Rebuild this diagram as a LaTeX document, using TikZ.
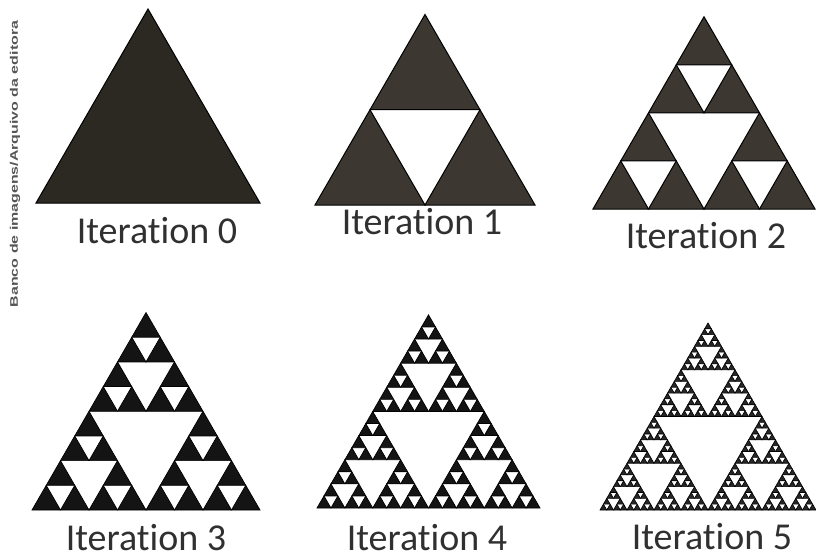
\documentclass[tikz,border=0pt]{standalone}
\usepackage{fontspec}
\setmainfont{Carlito}[RawFeature={-liga}]
\newfontfamily\markfont{Liberation Sans}

\definecolor{greyfill}{RGB}{60,56,49}
\definecolor{darkfill}{RGB}{44,41,35}
\definecolor{labelgrey}{RGB}{48,48,48}
\definecolor{markgrey}{RGB}{85,85,85}

\tikzset{
  tri/.style={fill=greyfill, draw=black, line width=1pt},
  itlabel/.style={anchor=base, inner sep=0pt, text=labelgrey,
    font=\fontsize{38}{40}\selectfont}
}

% level, x of base left, y of base, side
\newcommand\sierp[4]{%
  \ifnum#1=0
    \path[tri] (#2,#3) -- ++(#4,0) -- ++(-0.5*#4,-0.8660254*#4) -- cycle;
  \else
    \begingroup
      \pgfmathtruncatemacro\lvl{#1-1}%
      \pgfmathsetmacro\hs{#4/2}%
      \pgfmathsetmacro\xr{#2+#4/2}%
      \pgfmathsetmacro\xt{#2+#4/4}%
      \pgfmathsetmacro\yt{#3-#4*0.4330127}%
      \edef\next{%
        \noexpand\sierp{\lvl}{#2}{#3}{\hs}%
        \noexpand\sierp{\lvl}{\xr}{#3}{\hs}%
        \noexpand\sierp{\lvl}{\xt}{\yt}{\hs}}%
      \next
    \endgroup
  \fi}

\begin{document}
\begin{tikzpicture}[x=1pt,y=-1pt]
\useasboundingbox (0,0) rectangle (816,559);

% top row
\begin{scope}[tri/.style={fill=darkfill, draw=black, line width=1pt}]
\sierp{0}{36}{203}{224}
\end{scope}
\sierp{1}{315}{205}{220}
\sierp{2}{593}{209}{222}

% bottom row
\begin{scope}[tri/.style={fill=black!92, draw=black, line width=0.7pt}]
\sierp{3}{32}{510}{228}
\sierp{4}{317}{508}{223}
\end{scope}
\begin{scope}[tri/.style={fill=black!85, draw=black, line width=0.6pt}]
\sierp{5}{600}{510}{216}
\end{scope}

\node[itlabel] (lbl0) at (157,243) {Iteration 0};
\node[itlabel] (lbl1) at (422,234) {Iteration 1};
\node[itlabel] (lbl2) at (706,248) {Iteration 2};
\node[itlabel] (lbl3) at (146,550) {Iteration 3};
\node[itlabel] (lbl4) at (427,550) {Iteration 4};
\node[itlabel] (lbl5) at (712,549) {Iteration 5};

\node[rotate=90, inner sep=0pt, text=markgrey, font=\markfont\bfseries\fontsize{11}{12}\selectfont]
  (credit) at (15,164) {\scalebox{1.45}[1]{Banco de imagens/Arquivo da editora}};
\end{tikzpicture}
\end{document}
